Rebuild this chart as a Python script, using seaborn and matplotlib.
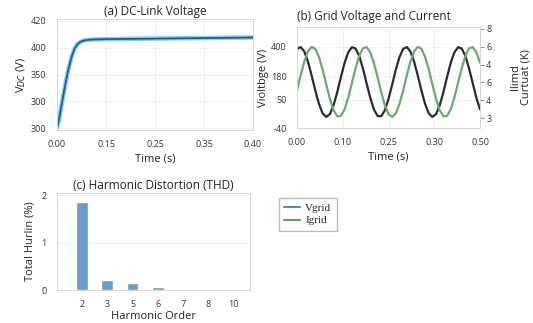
import numpy as np
import pandas as pd
import seaborn as sns
import matplotlib.pyplot as plt
from matplotlib.lines import Line2D

# (a) DC-link voltage, in axis units (tick labels are as printed on the source)
dc_time = [0, 0.004, 0.008, 0.015, 0.022, 0.03, 0.036, 0.042, 0.048, 0.055,
           0.065, 0.08, 0.10, 0.15, 0.20, 0.25, 0.30, 0.35, 0.40]
dc_voltage = [300, 309, 322, 343, 363, 380, 389, 394, 396.5, 398,
              398.8, 399.2, 399.5, 399.8, 400.1, 400.4, 400.7, 401.0, 401.3]
dc_yticks = [300, 330, 360, 390, 420]
dc_ylabels = ["300", "300", "350", "400", "420"]
dc_xticks = [0, 0.1, 0.2, 0.3, 0.4]
dc_xlabels = ["0.00", "0.15", "0.25", "0.35", "0.40"]

# (b) grid voltage / current sampled every 10 ms
grid_time = [round(0.01 * i, 2) for i in range(51)]
grid_voltage = [388.7, 399.3, 374.9, 319.9, 244.8, 163.1, 90.4, 39.3, 20.0, 35.9,
                83.6, 155.0, 236.7, 313.4, 370.5, 398.4, 391.3, 350.8, 284.2, 203.8,
                124.7, 61.4, 25.4, 23.6, 56.3, 117.4, 195.5, 276.5, 344.8, 388.7,
                399.3, 374.9, 319.9, 244.8, 163.1, 90.4, 39.3, 20.0, 35.9, 83.6,
                155.0, 236.7, 313.4, 370.5, 398.4, 391.3, 350.8, 284.2, 203.8, 124.7,
                61.4]
grid_current = [1.544, 2.391, 3.170, 3.740, 3.993, 3.883, 3.430, 2.720, 1.880, 1.071,
                0.436, 0.097, 0.116, 0.489, 1.146, 1.966, 2.799, 3.490, 3.910, 3.983,
                3.695, 3.100, 2.306, 1.462, 0.721, 0.225, 0.060, 0.260, 0.789, 1.543,
                2.391, 3.170, 3.740, 3.993, 3.883, 3.430, 2.720, 1.880, 1.071, 0.436,
                0.097, 0.116, 0.489, 1.146, 1.966, 2.799, 3.490, 3.910, 3.983, 3.695,
                3.100]
v_yticks = [400, 242, 112, -40]
v_ylabels = ["400", "180", "50", "-40"]
i_yticks = [5, 4, 3, 2, 1, 0]
i_ylabels = ["8", "6", "4", "6", "4", "3"]
grid_xticks = [0, 0.125, 0.25, 0.375, 0.5]
grid_xlabels = ["0.00", "0.10", "0.25", "0.30", "0.50"]

# (c) harmonic distortion
harmonic_order = ["2", "3", "5", "6", "7", "8", "10"]
harmonic_pct = [1.86, 0.21, 0.14, 0.07, 0.03, 0.012, 0.01]

sns.set_theme(style="whitegrid")
plt.rcParams["font.family"] = ["Open Sans", "DejaVu Sans"]
plt.rcParams.update({
    "grid.color": "#efefef", "grid.linewidth": 0.6,
    "axes.edgecolor": "#d6d6d6", "axes.linewidth": 0.7,
    "xtick.labelsize": 6.5, "ytick.labelsize": 6.5,
    "xtick.color": "#333333", "ytick.color": "#333333",
    "axes.labelsize": 8, "axes.titlesize": 8.5,
    "axes.labelcolor": "#222222", "axes.titlecolor": "#222222",
})

fig = plt.figure(figsize=(5.33, 3.23), dpi=100)
W, H = 533, 323


def box(l, t, r, b):
    return [l / W, 1 - b / H, (r - l) / W, (b - t) / H]


# (a)
ax1 = fig.add_axes(box(57, 19, 253, 130))
df_dc = pd.DataFrame({"t": dc_time, "v": dc_voltage})
sns.lineplot(data=df_dc, x="t", y="v", ax=ax1, color="#8ccbec", linewidth=3.2)
sns.lineplot(data=df_dc, x="t", y="v", ax=ax1, color="#1f5f8e", linewidth=1.3)
ax1.set_xlim(0, 0.4)
ax1.set_ylim(298, 422)
ax1.set_yticks(dc_yticks, dc_ylabels)
ax1.set_xticks(dc_xticks, dc_xlabels)
ax1.set_xlabel("Time (s)", labelpad=3)
ax1.set_ylabel("V$_{DC}$ (V)", labelpad=2)
ax1.set_title("(a) DC-Link Voltage", pad=3)
ax1.tick_params(pad=1.5)

# (b)
ax2 = fig.add_axes(box(297, 27, 480, 128))
df_grid = pd.DataFrame({"t": grid_time, "v": grid_voltage, "i": grid_current})
sns.lineplot(data=df_grid, x="t", y="v", ax=ax2, color="#2b2b2b", linewidth=1.6)
ax2.set_xlim(0, 0.5)
ax2.set_ylim(-40, 508)
ax2.set_yticks(v_yticks, v_ylabels)
ax2.set_xticks(grid_xticks, grid_xlabels)
ax2.set_xlabel("Time (s)", labelpad=3)
ax2.set_ylabel("Violtbge (V)", labelpad=1)
ax2.set_title("(b) Grid Voltage and Current", pad=5, loc="left")

ax2b = ax2.twinx()
sns.lineplot(data=df_grid, x="t", y="i", ax=ax2b, color="#6aaa6a", linewidth=1.6)
ax2b.set_ylim(-0.56, 5.11)
ax2b.set_yticks(i_yticks, i_ylabels)
ax2b.grid(False)
ax2b.tick_params(axis="y", left=False, right=True, length=3, width=0.7,
                 color="#888888", pad=1.5)
ax2b.set_ylabel("llimd\nCurtuat (K)", rotation=90, labelpad=13, linespacing=1.0)
ax2b.set_xlim(0, 0.5)
# twinx turns the left ticks back on
ax2.tick_params(axis="y", left=False, right=False, pad=1.5)
ax2.tick_params(axis="x", pad=1.5)

# (c)
ax3 = fig.add_axes(box(57, 193, 250, 290))
df_h = pd.DataFrame({"order": harmonic_order, "pct": harmonic_pct})
sns.barplot(data=df_h, x="order", y="pct", ax=ax3, color="#6c9bc9",
            width=0.47, saturation=1)
ax3.set_xlim(-1.0, 6.67)
ax3.set_ylim(0, 2.05)
ax3.set_yticks([0, 1, 2])
ax3.set_xlabel("Harmonic Order", labelpad=1)
ax3.set_ylabel("Total Hurlin (%)", labelpad=4)
ax3.set_title("(c) Harmonic Distortion (THD)", pad=3)
ax3.tick_params(pad=1.5)

handles = [Line2D([], [], color="#5b87b0", linewidth=1.5),
           Line2D([], [], color="#5aa05a", linewidth=1.5)]
fig.legend(handles, ["Vgrid", "Igrid"], loc="upper left",
           bbox_to_anchor=(273 / W, 1 - 192 / H), fancybox=False,
           prop={"family": "Liberation Serif", "size": 8},
           edgecolor="#bbbbbb", handlelength=1.4, handletextpad=0.5,
           borderpad=0.5, labelspacing=0.25, framealpha=1)

fig.savefig("out.png", dpi=100)
